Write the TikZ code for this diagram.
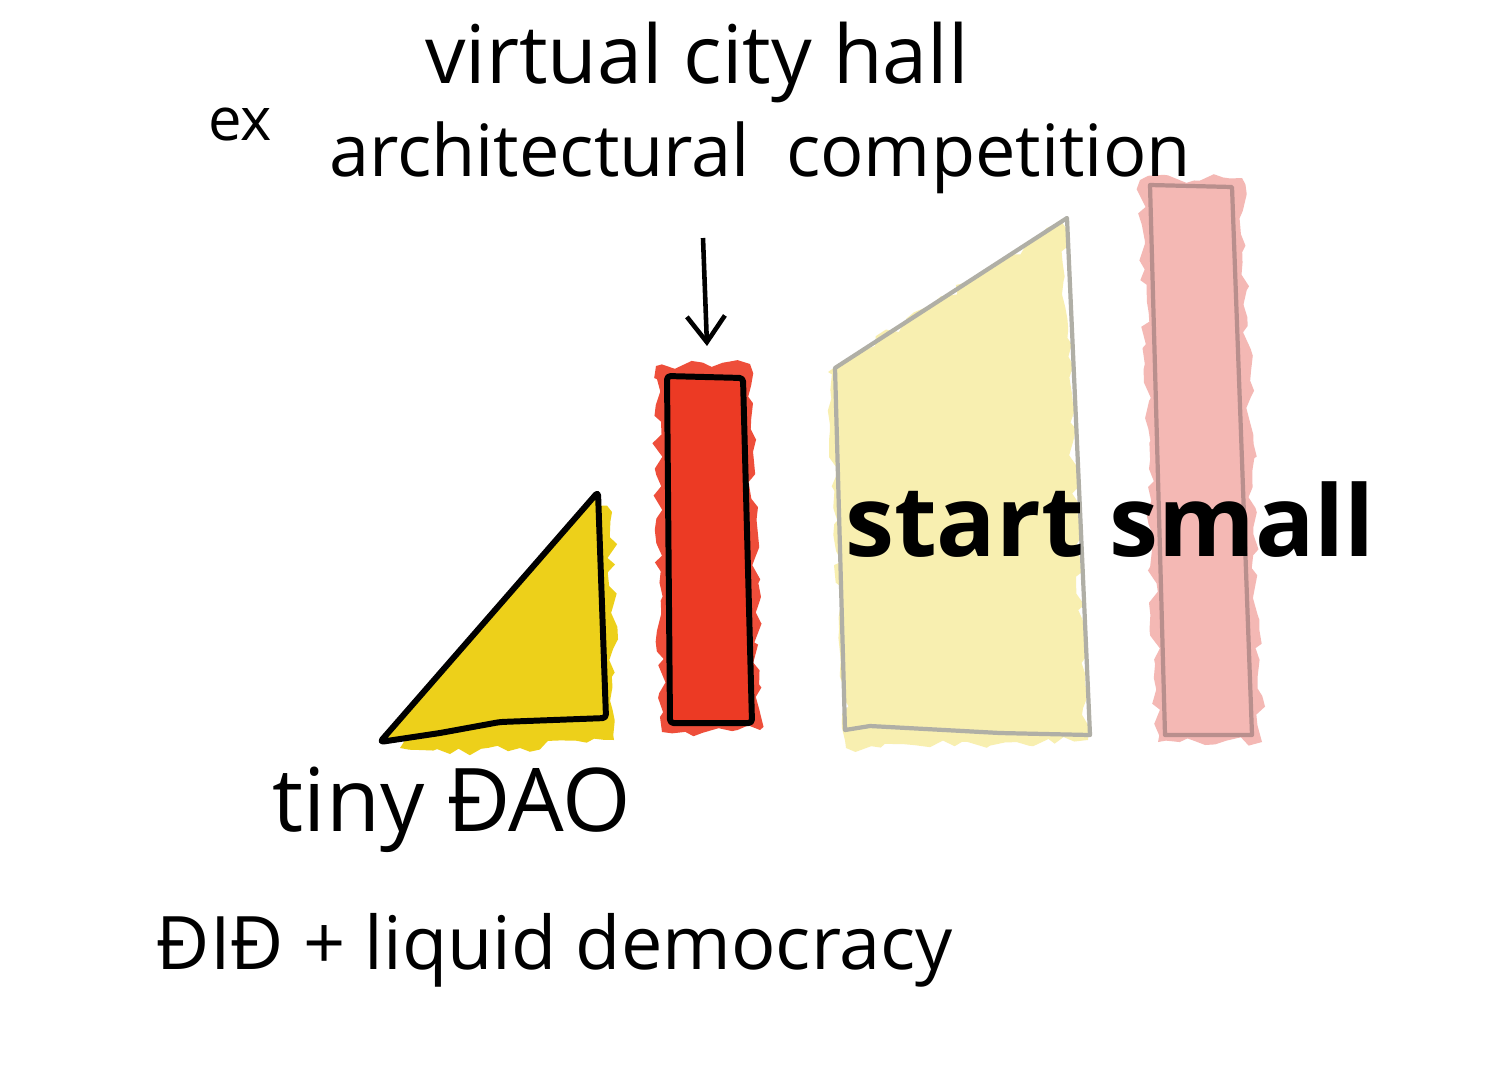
\documentclass[tikz,border=0pt]{standalone}
\usepackage{fontspec}
\setmainfont{Open Sans}
\usepackage{tikz}
\usetikzlibrary{arrows.meta,positioning,calc,decorations.pathmorphing}
\definecolor{sun}{HTML}{EDD01A}
\definecolor{brick}{HTML}{EC3A24}
\definecolor{cream}{HTML}{F8EFB0}
\definecolor{blush}{HTML}{F4B8B4}
\definecolor{stone}{HTML}{B0AFA6}
\definecolor{rosewood}{HTML}{B98F8D}

\begin{document}
\begin{tikzpicture}[x=0.01cm,y=-0.01cm,>={Straight Barb[length=2.6mm,width=3.8mm]},
  wash/.style={decorate,decoration={random steps,segment length=3pt,amplitude=1.4pt}},
  ink/.style={line width=1.7pt,line join=round,rounded corners=1pt},
  hand/.style={align=center,inner sep=0pt}]
\pgfmathsetseed{7}
\useasboundingbox[fill=white] (0,0) rectangle (1500,1069);
% yellow triangle
\fill[sun,wash] (400,748)--(596,505)--(612,512)--(614,740)--(520,748)--(450,754)--cycle;
\fill[sun] (380,742)--(598,492)--(606,718)--(500,722)--(440,733)--cycle;
\draw[ink] (380,742)--(598,492)--(606,718)--(500,722)--(440,733)--cycle;
% red bar
\fill[brick!90!white,wash] (656,366)--(750,364)--(760,730)--(662,732)--cycle;
\fill[brick] (667,376)--(743,378)--(752,723)--(670,723)--cycle;
\draw[ink] (667,376)--(743,378)--(752,723)--(670,723)--cycle;
% pale yellow block
\fill[cream,wash] (828,372)--(1062,222)--(1088,740)--(846,748)--cycle;
\draw[stone,line width=1.2pt,line join=round] (845,730)--(835,368)--(1067,218)--(1090,735)--(1000,733)--(870,726)--cycle;
% pink bar
\fill[blush,wash] (1140,180)--(1242,178)--(1262,742)--(1158,742)--cycle;
\draw[rosewood,line width=1.2pt,line join=round] (1150,185)--(1232,187)--(1252,735)--(1165,735)--cycle;
% texts
\node[hand,font=\fontsize{17}{20}\selectfont] (ex) at (240,124) {ex};
\node[hand,font=\fontsize{23}{26}\selectfont] (cityhall) at (697,62) {virtual city hall};
\node[hand,font=\fontsize{20.5}{24}\selectfont] (competition) at (760,158) {architectural\enspace competition};
\node[hand,font=\fontsize{28}{32}\selectfont\bfseries] (startsmall) at (1110,520) {start small};
\node[hand,font=\fontsize{25}{28}\selectfont] (tinydao) at (452,810) {tiny ÐAO};
\node[hand,font=\fontsize{21}{24}\selectfont] (didline) at (555,950) {ÐIÐ + liquid democracy};
% arrow
\coordinate (arrowtail) at (703,238);
\coordinate (bartop) at (707,346);
\draw[->,line width=1.3pt] (arrowtail)--(bartop);
\end{tikzpicture}
\end{document}
